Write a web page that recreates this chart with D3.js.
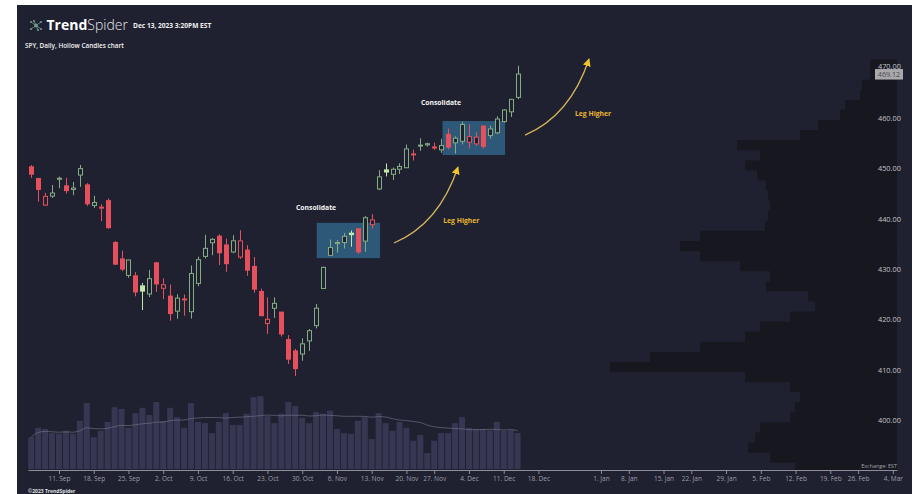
<!DOCTYPE html>
<html><head><meta charset="utf-8">
<script src="https://cdn.jsdelivr.net/npm/d3@7"></script>
<style>
html,body{margin:0;padding:0;background:#fff;}
svg{display:block;font-family:"Open Sans",sans-serif;}
</style></head>
<body><svg id="c" width="917" height="494"></svg>
<script>
// ---------------- DATA ----------------
const dates = [
"2023-09-05","2023-09-06","2023-09-07","2023-09-08",
"2023-09-11","2023-09-12","2023-09-13","2023-09-14","2023-09-15",
"2023-09-18","2023-09-19","2023-09-20","2023-09-21","2023-09-22",
"2023-09-25","2023-09-26","2023-09-27","2023-09-28","2023-09-29",
"2023-10-02","2023-10-03","2023-10-04","2023-10-05","2023-10-06",
"2023-10-09","2023-10-10","2023-10-11","2023-10-12","2023-10-13",
"2023-10-16","2023-10-17","2023-10-18","2023-10-19","2023-10-20",
"2023-10-23","2023-10-24","2023-10-25","2023-10-26","2023-10-27",
"2023-10-30","2023-10-31",
"2023-11-01","2023-11-02","2023-11-03",
"2023-11-06","2023-11-07","2023-11-08","2023-11-09","2023-11-10",
"2023-11-13","2023-11-14","2023-11-15","2023-11-16","2023-11-17",
"2023-11-20","2023-11-21","2023-11-22","2023-11-24",
"2023-11-27","2023-11-28","2023-11-29","2023-11-30",
"2023-12-01",
"2023-12-04","2023-12-05","2023-12-06","2023-12-07","2023-12-08",
"2023-12-11","2023-12-12","2023-12-13"];
const open = [450.72,448.40,443.11,444.90, 448.24,446.95,446.22,449.07,447.14, 443.05,442.68,444.01,435.70,432.45, 429.17,429.09,427.09,425.48,431.67,
 426.62,425.06,422.07,424.36,421.97, 427.58,432.94,435.64,436.95,435.21, 433.82,432.81,434.19,430.95,425.98, 419.61,422.65,421.89,416.45,414.19, 413.56,416.18,
 419.20,426.58,433.14, 435.47,435.69,437.55,438.43,435.98, 439.23,446.32,450.11,449.22,450.24, 450.53,453.18,454.98,455.07, 454.65,454.08,457.15,455.48,
 455.77, 455.60,455.26,458.81,456.91,457.46, 459.69,461.63,464.49];
const high = [451.06,448.51,445.55,447.11, 448.77,448.53,447.71,451.08,447.48, 444.97,443.29,444.44,435.97,434.10, 432.27,429.82,427.67,430.25,431.85,
 428.60,427.37,425.43,425.37,431.13, 432.88,437.22,436.58,437.34,436.45, 437.14,438.14,435.18,432.82,426.54, 424.82,424.82,421.92,417.33,414.60, 416.68,418.53,
 423.50,430.92,436.29, 436.15,437.59,438.09,438.47,440.93, 441.33,450.06,451.38,450.56,451.42, 455.13,454.13,456.38,455.50, 455.49,456.27,458.32,456.76,
 459.65, 459.12,457.59,458.84,458.90,460.75, 462.17,464.20,470.76];
const low = [448.51,443.81,442.97,444.53, 446.47,445.39,445.08,446.75,442.92, 442.56,439.94,438.43,431.23,429.99, 428.72,425.02,422.29,424.87,425.91,
 424.46,420.18,420.56,421.17,420.60, 427.01,432.53,433.18,431.23,429.88, 433.57,432.45,429.09,425.73,421.08, 417.55,420.74,417.02,411.60,409.21, 412.22,414.21,
 418.65,426.56,433.01, 433.68,434.51,434.87,433.40,433.83, 438.42,446.09,448.80,448.12,449.29, 450.52,451.96,453.89,454.73, 454.08,453.50,454.20,453.34,
 455.16, 454.34,454.87,454.31,456.29,457.21, 459.47,460.60,464.12];
const close = [449.24,446.22,444.85,445.52, 448.45,445.99,446.51,450.36,443.37, 443.63,442.71,438.64,431.39,430.42, 432.23,425.88,426.05,428.52,427.48,
 427.31,421.59,424.66,424.50,429.54, 432.29,434.54,436.32,433.66,431.50, 436.04,436.02,430.21,426.43,421.19, 420.46,423.63,417.55,412.55,410.68, 415.59,418.20,
 422.66,430.76,434.69, 435.69,436.93,437.25,433.84,440.61, 440.19,448.73,449.68,450.23,450.79, 454.26,453.27,455.02,455.30, 454.48,454.93,454.61,456.40,
 459.10, 456.69,456.60,454.76,458.23,460.20, 461.99,464.10,469.12];
// volume, millions of shares
const volume = [54,70,68,61, 60,65,60,82,112, 54,65,80,105,102, 70,95,104,92,114,
 82,104,88,70,112, 80,78,61,80,95, 75,75,94,122,124, 90,78,94,114,107, 87,78,
 97,94,99, 68,61,60,82,88, 51,95,78,65,80, 70,48,58,27, 48,61,61,78,
 88, 70,68,68,66,80, 65,66,61];
const holidays = ["2023-11-23","2023-12-25","2024-01-01","2024-01-15","2024-02-19"];
const tickWeeks = ["2023-09-11","2023-09-18","2023-09-25","2023-10-02","2023-10-09","2023-10-16","2023-10-23","2023-10-30",
 "2023-11-06","2023-11-13","2023-11-20","2023-11-27","2023-12-04","2023-12-11","2023-12-18",
 "2024-01-01","2024-01-08","2024-01-15","2024-01-22","2024-01-29","2024-02-05","2024-02-12","2024-02-19","2024-02-26","2024-03-04"];
const tickLabels = ["11. Sep","18. Sep","25. Sep","2. Oct","9. Oct","16. Oct","23. Oct","30. Oct",
 "6. Nov","13. Nov","20. Nov","27. Nov","4. Dec","11. Dec","18. Dec",
 "1. Jan","8. Jan","15. Jan","22. Jan","29. Jan","5. Feb","12. Feb","19. Feb","26. Feb","4. Mar"];
const priceTicks = [400,410,420,430,440,450,460,470];
// volume profile: bin low price (2-point bins) and relative volume
const profileLow = [390,392,394,396,398,400,402,404,406,408,410,412,414,416,418,420,422,424,426,428,430,
 432,434,436,438,440,442,444,446,448,450,452,454,456,458,460,462,464,466,468,470];
const profileVol = [102,127,149,142,137,107,102,97,107,152,287,247,197,152,137,107,82,89,131,127,157,
 197,217,197,132,129,127,129,131,140,152,137,160,97,79,57,52,37,35,27,27];
// annotations (trading-day index, price)
const boxes = [{i0:41.1,i1:50.2,p0:432.6,p1:439.6},{i0:59.2,i1:68.2,p0:453.05,p1:459.8}];
const consolidateLabels = [{i:41.0,p:442.7},{i:58.98,p:463.5}];
const legLabels = [{i:61.9,p:439.96},{i:80.86,p:461.33}];
const arrows = [
 {s:[52.21,435.60],c:[58.69,439.37],e:[61.42,450.67]},
 {s:[71.07,457.02],c:[77.54,460.79],e:[80.28,472.10]}];

// ---------------- CHART ----------------
const W=917,H=494, BG="#1f2130";
const svg=d3.select("#c");
svg.append("rect").attr("width",W).attr("height",H).attr("fill","#fff");
svg.append("rect").attr("x",17).attr("y",5).attr("width",895).attr("height",489).attr("fill",BG);

const fmt=d3.utcFormat("%Y-%m-%d");
const tradingDays=d3.utcDays(new Date(Date.UTC(2023,8,5)),new Date(Date.UTC(2024,2,9)))
  .filter(d=>d.getUTCDay()%6!==0 && !holidays.includes(fmt(d))).map(fmt);
const dayIndex=new Map(tradingDays.map((d,i)=>[d,i]));

const x=d3.scaleLinear().domain([-0.46,124.6]).range([28,897]);
const y=d3.scaleLinear().domain([390.56,482.82]).range([470,5]);
const yv=d3.scaleLinear().domain([0,170]).range([469,369]);
const px=d3.scaleLinear().domain([0,300]).range([0,300]);

svg.append("defs").append("clipPath").attr("id","plot").append("rect")
  .attr("x",17).attr("y",5).attr("width",880).attr("height",465);

// volume profile
svg.append("g").attr("clip-path","url(#plot)").selectAll("rect").data(profileLow).join("rect")
  .attr("x",(d,i)=>897-px(profileVol[i])).attr("width",(d,i)=>px(profileVol[i]))
  .attr("y",d=>y(d+2)).attr("height",d=>y(d)-y(d+2)).attr("fill","#16171f");

// volume bars
const ci=dates.map(d=>dayIndex.get(d));
svg.append("g").selectAll("rect").data(volume).join("rect")
  .attr("x",(d,i)=>x(ci[i])-3).attr("width",6)
  .attr("y",d=>yv(d)).attr("height",d=>yv(0)-yv(d)).attr("fill","#383753");
// volume 20-day average
const ma=volume.map((v,i)=>d3.mean(volume.slice(Math.max(0,i-19),i+1)));
svg.append("path").datum(ma).attr("fill","none").attr("stroke","#77778c").attr("stroke-opacity",0.6).attr("stroke-width",1)
  .attr("d",d3.line().x((d,i)=>x(ci[i])).y(d=>yv(d)).curve(d3.curveMonotoneX));

// consolidation boxes
svg.append("g").selectAll("rect").data(boxes).join("rect")
  .attr("x",d=>x(d.i0)).attr("width",d=>x(d.i1)-x(d.i0))
  .attr("y",d=>y(d.p1)).attr("height",d=>y(d.p0)-y(d.p1)).attr("fill","#2e5877");

// candles
const RED="#e5505c", GREEN="#84ad84", GREENF="#c2e6ac";
const cg=svg.append("g");
dates.forEach((d,i)=>{
  const o=open[i],c=close[i],h=high[i],l=low[i];
  const prev=i>0?close[i-1]:o;
  const up=c>=prev, hollow=c>o;
  const col=up?(hollow?GREEN:GREENF):RED;
  const cx=Math.round(x(ci[i]))+0.5;
  const top=y(Math.max(o,c)), bot=y(Math.min(o,c));
  cg.append("line").attr("x1",cx).attr("x2",cx).attr("y1",y(h)).attr("y2",top).attr("stroke",col);
  cg.append("line").attr("x1",cx).attr("x2",cx).attr("y1",bot).attr("y2",y(l)).attr("stroke",col);
  if(hollow){
    cg.append("rect").attr("x",cx-2).attr("width",4).attr("y",top).attr("height",Math.max(bot-top,1))
      .attr("fill",BG).attr("stroke",col).attr("stroke-width",1);
  } else {
    cg.append("rect").attr("x",cx-2.5).attr("width",5).attr("y",top-0.5).attr("height",Math.max(bot-top,1)+1)
      .attr("fill",col);
  }
});

// arrows
const defs=svg.select("defs");
defs.append("marker").attr("id","ah").attr("viewBox","0 0 10 10").attr("refX",9).attr("refY",5)
  .attr("markerWidth",8).attr("markerHeight",8).attr("markerUnits","userSpaceOnUse").attr("orient","auto")
  .append("path").attr("d","M0,0L10,5L0,10Z").attr("fill","#f0c42a");
svg.append("g").selectAll("path").data(arrows).join("path")
  .attr("d",a=>`M${x(a.s[0])},${y(a.s[1])}Q${x(a.c[0])},${y(a.c[1])} ${x(a.e[0])},${y(a.e[1])}`)
  .attr("fill","none").attr("stroke","#d6b65a").attr("stroke-width",1.3).attr("marker-end","url(#ah)");

// annotation texts
svg.append("g").selectAll("text").data(consolidateLabels).join("text")
  .attr("x",d=>x(d.i)).attr("y",d=>y(d.p)).attr("dy","0.35em").attr("text-anchor","middle")
  .attr("font-size",6.8).attr("font-weight",700).attr("fill","#f2f2f2").text("Consolidate");
svg.append("g").selectAll("text").data(legLabels).join("text")
  .attr("x",d=>x(d.i)).attr("y",d=>y(d.p)).attr("dy","0.35em").attr("text-anchor","middle")
  .attr("font-size",6.8).attr("font-weight",700).attr("fill","#e9b632").text("Leg Higher");

// price axis
const ya=svg.append("g").attr("transform","translate(901,0)")
  .call(d3.axisRight(y).tickValues(priceTicks).tickFormat(d3.format(".2f")).tickSize(0));
ya.select(".domain").remove();
ya.selectAll("text").attr("x",0).attr("dy",d=>d===470?"-0.15em":"0.05em").attr("text-anchor","end")
  .attr("font-size",7.4).attr("fill","#c2c3ca").attr("font-family","Open Sans");

// last price tag
const last=close[close.length-1];
svg.append("rect").attr("x",875).attr("y",y(last)-5).attr("width",28).attr("height",10.5).attr("fill","#a9a9ab");
svg.append("text").attr("x",889).attr("y",y(last)+0.3).attr("dy","0.35em").attr("text-anchor","middle")
  .attr("font-size",7.2).attr("fill","#4a4a50").text(d3.format(".2f")(last));

// time axis
const tickIdx=tickWeeks.map(w=>dayIndex.get(tradingDays.find(d=>d>=w)));
const xa=svg.append("g").attr("transform","translate(0,470)")
  .call(d3.axisBottom(x).tickValues(tickIdx).tickFormat((d,i)=>tickLabels[i]).tickSize(4).tickSizeOuter(0));
xa.select(".domain").attr("stroke","#8d8e9a");
xa.selectAll(".tick line").attr("stroke","#8d8e9a");
xa.selectAll("text").attr("font-size",6.5).attr("fill","#9d9ea8").attr("font-family","Open Sans").attr("dy","0.6em");

svg.append("text").attr("x",897).attr("y",466).attr("dy","0.35em").attr("text-anchor","end")
  .attr("font-size",5.4).attr("fill","#a5a6ae").text("Exchange: EST");

// header
const logo=svg.append("g").attr("transform","translate(36,25.5)").attr("stroke","#5f837a").attr("fill","#6f958a");
[[-5,-3.5],[5,-3.5],[-5,3.5],[5,3.5],[-2,-4.5],[2,4.5]].forEach(p=>{
  logo.append("line").attr("x1",0).attr("y1",0).attr("x2",p[0]).attr("y2",p[1]).attr("stroke-width",1);
  logo.append("circle").attr("cx",p[0]).attr("cy",p[1]).attr("r",1.1).attr("stroke","none");
});
logo.append("circle").attr("r",2).attr("stroke","none");
const t=svg.append("text").attr("x",46.5).attr("y",30).attr("font-size",14).attr("fill","#ffffff");
t.append("tspan").attr("font-weight",700).text("Trend");
t.append("tspan").attr("font-weight",300).attr("fill","#e6e6ea").text("Spider");
svg.append("text").attr("x",133).attr("y",28.3).attr("font-size",6.6).attr("font-weight",700).attr("fill","#f0f0f0")
  .text("Dec 13, 2023 3:20PM EST");
svg.append("text").attr("x",25).attr("y",47.5).attr("font-size",6.4).attr("font-weight",600).attr("fill","#f4f4f4")
  .text("SPY, Daily, Hollow Candles chart");
svg.append("text").attr("x",28).attr("y",492.5).attr("font-size",5).attr("font-weight",700).attr("fill","#e0e0e0")
  .text("©2023 TrendSpider");
</script>
</body></html>
